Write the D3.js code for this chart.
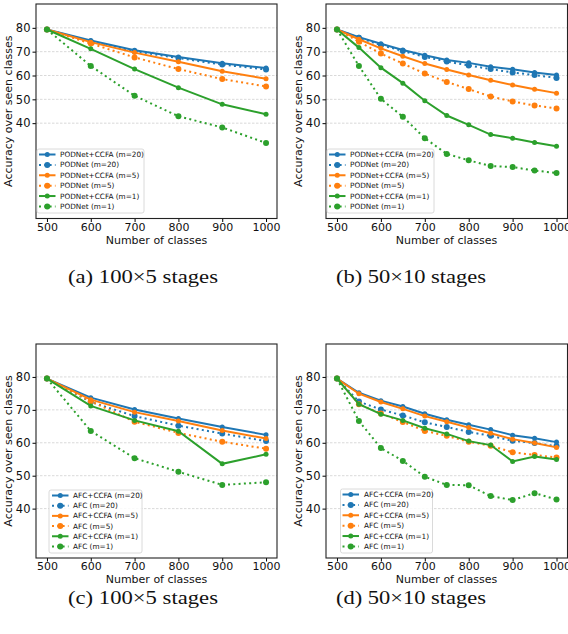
<!DOCTYPE html>
<html>
<head>
<meta charset="utf-8">
<script src="https://cdn.jsdelivr.net/npm/d3@7"></script>
<style>
  body { margin: 0; background: #fff; }
  svg { display: block; }
  .tick text { font-family: "DejaVu Sans", sans-serif; }
</style>
</head>
<body>
<svg id="fig" width="568" height="634"></svg>
<script>
// class counts
var xs100 = [500, 600, 700, 800, 900, 1000];
var xs50 = [500, 550, 600, 650, 700, 750, 800, 850, 900, 950, 1000];
var xTicks = [500, 600, 700, 800, 900, 1000];
var yTicks = [40, 50, 60, 70, 80];

// (a) PODNet 100x5
var a_ccfa20 = [79.3, 74.7, 70.6, 67.8, 65.1, 63.1];
var a_base20 = [79.3, 74.3, 70.2, 67.3, 64.6, 62.5];
var a_ccfa5  = [79.3, 74.0, 69.6, 65.8, 61.8, 58.6];
var a_base5  = [79.3, 73.4, 67.6, 62.7, 58.5, 55.4];
var a_ccfa1  = [79.3, 71.2, 62.7, 54.9, 47.9, 43.7];
var a_base1  = [79.3, 64.0, 51.5, 42.9, 38.2, 31.7];

// (b) PODNet 50x10
var b_ccfa20 = [79.3, 76.1, 73.3, 70.7, 68.5, 66.5, 65.3, 63.7, 62.6, 61.3, 60.2];
var b_base20 = [79.3, 75.8, 72.8, 70.3, 67.8, 65.9, 64.2, 62.7, 61.3, 60.2, 59.0];
var b_ccfa5  = [79.3, 75.2, 71.4, 68.1, 65.0, 62.5, 60.2, 58.0, 56.0, 54.2, 52.6];
var b_base5  = [79.3, 74.2, 69.2, 65.0, 60.8, 57.3, 54.3, 51.2, 49.1, 47.4, 46.2];
var b_ccfa1  = [79.3, 71.7, 63.3, 56.8, 49.4, 43.2, 39.3, 35.2, 33.7, 31.9, 30.3];
var b_base1  = [79.3, 64.0, 50.2, 42.7, 33.7, 27.1, 24.4, 22.0, 21.6, 20.1, 19.1];

// (c) AFC 100x5
var c_ccfa20 = [79.5, 73.7, 70.1, 67.4, 64.8, 62.4];
var c_base20 = [79.5, 72.4, 68.1, 65.2, 62.8, 60.5];
var c_ccfa5  = [79.5, 73.1, 69.3, 66.6, 63.7, 61.3];
var c_base5  = [79.5, 72.6, 66.4, 63.0, 60.3, 58.2];
var c_ccfa1  = [79.5, 71.2, 66.8, 63.5, 53.6, 56.5];
var c_base1  = [79.5, 63.6, 55.3, 51.2, 47.2, 48.0];

// (d) AFC 50x10
var d_ccfa20 = [79.5, 75.2, 72.8, 71.0, 68.8, 67.0, 65.5, 64.0, 62.3, 61.4, 60.2];
var d_base20 = [79.5, 72.5, 70.1, 68.3, 66.2, 64.8, 63.3, 62.1, 60.6, 59.9, 59.0];
var d_ccfa5  = [79.5, 74.9, 72.4, 70.3, 68.1, 66.4, 64.6, 62.9, 61.1, 59.9, 58.6];
var d_base5  = [79.5, 71.7, 68.9, 66.3, 63.6, 62.1, 60.3, 59.1, 57.1, 56.3, 55.5];
var d_ccfa1  = [79.5, 71.7, 68.7, 66.8, 64.4, 62.7, 60.5, 59.3, 54.3, 55.8, 54.9];
var d_base1  = [79.5, 66.6, 58.4, 54.5, 49.7, 47.2, 47.1, 43.8, 42.6, 44.7, 42.8];

var podLabels = ["PODNet+CCFA (m=20)", "PODNet (m=20)", "PODNet+CCFA (m=5)", "PODNet (m=5)", "PODNet+CCFA (m=1)", "PODNet (m=1)"];
var afcLabels = ["AFC+CCFA (m=20)", "AFC (m=20)", "AFC+CCFA (m=5)", "AFC (m=5)", "AFC+CCFA (m=1)", "AFC (m=1)"];
var captions = ["(a) 100\u00d75 stages", "(b) 50\u00d710 stages", "(c) 100\u00d75 stages", "(d) 50\u00d710 stages"];

var colors = ["#1f77b4", "#1f77b4", "#ff7f0e", "#ff7f0e", "#2ca02c", "#2ca02c"];
var dotted = [false, true, false, true, false, true];

var panels = [
  {x0: 36, x1: 277, y0: 4, y1: 218.5, ydom: [0, 90], xs: xs100, labels: podLabels,
   series: [a_ccfa20, a_base20, a_ccfa5, a_base5, a_ccfa1, a_base1],
   leg: {x: 37, y: 149, w: 107, h: 64, hx: 2, tx: 23}, cap: 283},
  {x0: 326, x1: 567.5, y0: 4, y1: 218.5, ydom: [0, 90], xs: xs50, labels: podLabels,
   series: [b_ccfa20, b_base20, b_ccfa5, b_base5, b_ccfa1, b_base1],
   leg: {x: 327, y: 149, w: 107, h: 64, hx: 2, tx: 23}, cap: 283},
  {x0: 36, x1: 277, y0: 344, y1: 558, ydom: [25, 90], xs: xs100, labels: afcLabels,
   series: [c_ccfa20, c_base20, c_ccfa5, c_base5, c_ccfa1, c_base1],
   leg: {x: 49, y: 490, w: 93, h: 63, hx: 3, tx: 24}, cap: 604},
  {x0: 326, x1: 567.5, y0: 344, y1: 558, ydom: [25, 90], xs: xs50, labels: afcLabels,
   series: [d_ccfa20, d_base20, d_ccfa5, d_base5, d_ccfa1, d_base1],
   leg: {x: 340.5, y: 489, w: 92, h: 64, hx: 2, tx: 23.5}, cap: 604}
];

var svg = d3.select("#fig");

panels.forEach(function(p, pi) {
  var x = d3.scaleLinear().domain([475, 1025]).range([p.x0, p.x1]);
  var y = d3.scaleLinear().domain(p.ydom).range([p.y1, p.y0]);
  var g = svg.append("g");

  // grid
  g.selectAll(".grid").data(yTicks).enter().append("line")
      .attr("x1", p.x0).attr("x2", p.x1)
      .attr("y1", function(d) { return y(d); })
      .attr("y2", function(d) { return y(d); })
      .attr("stroke", "#cfcfcf").attr("stroke-width", 0.8)
      .attr("stroke-dasharray", "2.5,1.5");

  // axes
  g.append("g")
      .attr("transform", "translate(0," + p.y1 + ")")
      .call(d3.axisBottom(x).tickValues(xTicks).tickFormat(d3.format("d")).tickSize(3.5).tickPadding(1))
      .call(function(a) { a.select(".domain").remove(); })
      .selectAll("text").style("font-size", "11px").attr("fill", "#111");
  g.append("g")
      .attr("transform", "translate(" + p.x0 + ",0)")
      .call(d3.axisLeft(y).tickValues(yTicks).tickSize(3.5).tickPadding(2))
      .call(function(a) { a.select(".domain").remove(); })
      .selectAll("text").style("font-size", "11.5px").attr("fill", "#111");

  // series
  var line = d3.line()
      .x(function(d, i) { return x(p.xs[i]); })
      .y(function(d) { return y(d); });

  p.series.forEach(function(vals, si) {
    var s = g.append("g");
    s.append("path")
        .datum(vals)
        .attr("d", line)
        .attr("fill", "none")
        .attr("stroke", colors[si])
        .attr("stroke-width", 2)
        .attr("stroke-dasharray", dotted[si] ? "2,3.3" : null);
    s.selectAll("circle").data(vals).enter().append("circle")
        .attr("cx", function(d, i) { return x(p.xs[i]); })
        .attr("cy", function(d) { return y(d); })
        .attr("r", dotted[si] ? 3 : 2.5)
        .attr("fill", colors[si]);
  });

  // frame
  g.append("rect")
      .attr("x", p.x0).attr("y", p.y0)
      .attr("width", p.x1 - p.x0).attr("height", p.y1 - p.y0)
      .attr("fill", "none").attr("stroke", "#222").attr("stroke-width", 1.1);

  // legend
  var L = p.leg;
  var lg = g.append("g").attr("transform", "translate(" + L.x + "," + L.y + ")");
  lg.append("rect")
      .attr("width", L.w).attr("height", L.h).attr("rx", 2)
      .attr("fill", "#fff").attr("fill-opacity", 0.85)
      .attr("stroke", "#d0d0d0").attr("stroke-width", 0.8);
  var rowH = (L.h - 10) / 5.2;
  p.labels.forEach(function(lab, li) {
    var ry = 5.5 + li * rowH;
    lg.append("line")
        .attr("x1", L.hx).attr("x2", L.hx + 16.5)
        .attr("y1", ry).attr("y2", ry)
        .attr("stroke", colors[li]).attr("stroke-width", 2)
        .attr("stroke-dasharray", dotted[li] ? "2,3.3" : null);
    lg.append("circle")
        .attr("cx", L.hx + 8.25).attr("cy", ry)
        .attr("r", dotted[li] ? 3 : 2.5)
        .attr("fill", colors[li]);
    lg.append("text")
        .attr("x", L.tx).attr("y", ry + 2.6)
        .style("font-family", "'DejaVu Sans', sans-serif")
        .style("font-size", "7.3px")
        .attr("fill", "#111")
        .text(lab);
  });

  // axis labels
  g.append("text")
      .attr("x", p.x0 + 120.5)
      .attr("y", p.y1 + 25)
      .attr("text-anchor", "middle")
      .style("font-family", "'DejaVu Sans', sans-serif")
      .style("font-size", "11px")
      .attr("fill", "#111")
      .text("Number of classes");
  g.append("text")
      .attr("transform", "translate(" + (p.x0 - 24) + "," + ((p.y0 + p.y1) / 2) + ") rotate(-90)")
      .attr("text-anchor", "middle")
      .style("font-family", "'DejaVu Sans', sans-serif")
      .style("font-size", "11px")
      .attr("fill", "#111")
      .text("Accuracy over seen classes");

  // caption
  svg.append("text")
      .attr("x", pi % 2 ? 411 : 143)
      .attr("y", p.cap)
      .attr("text-anchor", "middle")
      .attr("textLength", 150)
      .attr("lengthAdjust", "spacingAndGlyphs")
      .style("font-family", "'Liberation Serif', 'Times New Roman', serif")
      .style("font-size", "18px")
      .attr("fill", "#111")
      .text(captions[pi]);
});
</script>
</body>
</html>
